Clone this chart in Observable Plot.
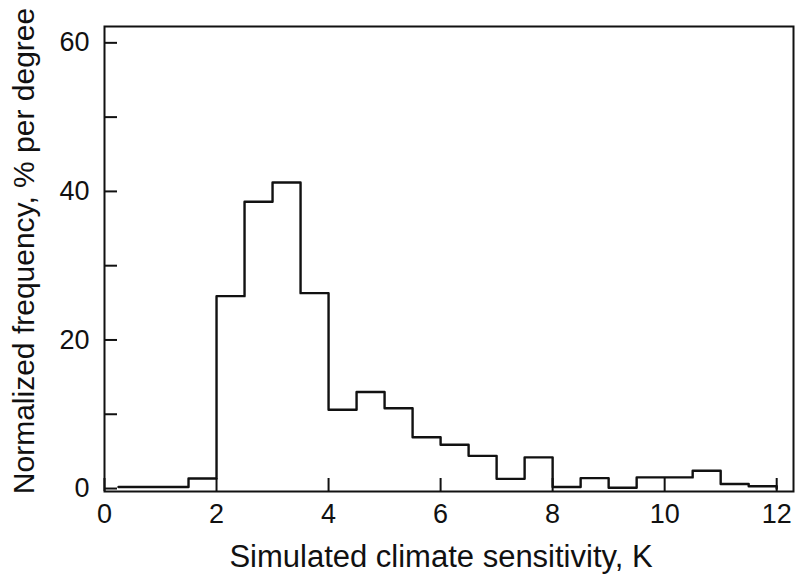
<!DOCTYPE html>
<html>
<head>
<meta charset="utf-8">
<script src="https://cdn.jsdelivr.net/npm/d3@7"></script>
<script src="https://cdn.jsdelivr.net/npm/@observablehq/plot@0.6"></script>
<style>
  html, body { margin: 0; padding: 0; background: #fff; }
  #chart svg { display: block; }
</style>
</head>
<body>
<div id="chart"></div>
<script>
// Bin edges (K) and normalized frequency (% per degree)
const binEdges = [0.25, 0.5, 1.0, 1.5, 2.0, 2.5, 3.0, 3.5, 4.0, 4.5, 5.0, 5.5, 6.0, 6.5, 7.0, 7.5, 8.0, 8.5, 9.0, 9.5, 10.0, 10.5, 11.0, 11.5, 12.0];
const freqValues = [0.2, 0.2, 0.2, 1.35, 25.9, 38.6, 41.2, 26.3, 10.6, 13.0, 10.8, 6.9, 5.9, 4.4, 1.3, 4.2, 0.2, 1.4, 0.1, 1.5, 1.5, 2.4, 0.6, 0.3];
const xTicks = [0, 2, 4, 6, 8, 10, 12];
const yTicks = [0, 10, 20, 30, 40, 50, 60];
const yLabels = [0, 20, 40, 60];
const xTitle = "Simulated climate sensitivity, K";
const yTitle = "Normalized frequency, % per degree";

// step outline points: each bin's left edge at its value, closing at the last edge down to 0
const stepPts = freqValues.map((v, i) => ({x: binEdges[i], y: v}));
stepPts.push({x: binEdges[binEdges.length - 1], y: freqValues[freqValues.length - 1]});
stepPts.push({x: binEdges[binEdges.length - 1], y: 0});

const font = "'Liberation Sans', Arial, Helvetica, sans-serif";

const chart = Plot.plot({
  width: 795,
  height: 577,
  marginLeft: 104,
  marginRight: 2,
  marginTop: 26,
  marginBottom: 86,
  style: {fontFamily: font, background: "#fff", color: "#111"},
  x: {domain: [0, 12.3]},
  y: {domain: [-0.4, 62.2]},
  marks: [
    Plot.line(stepPts, {x: "x", y: "y", curve: "step-after", stroke: "#111", strokeWidth: 2.4}),
    Plot.frame({stroke: "#111", strokeWidth: 2}),
    Plot.axisX({ticks: xTicks, tickSize: -13, tickPadding: 25, strokeWidth: 2, fontSize: 27, label: null, tickFormat: d => String(d)}),
    Plot.axisY({ticks: yTicks, tickSize: -13, tickPadding: 28, strokeWidth: 2, fontSize: 27, label: null,
      tickFormat: d => yLabels.includes(d) ? String(d) : ""}),
    Plot.text([xTitle], {frameAnchor: "bottom", text: d => d, textAnchor: "middle", dx: -8, dy: 75, lineAnchor: "bottom", fontSize: 31, fill: "#111"}),
    Plot.text([yTitle], {frameAnchor: "left", text: d => d, textAnchor: "middle", rotate: -90, dx: -71, dy: -8, lineAnchor: "bottom", fontSize: 30, fill: "#111"})
  ]
});
document.getElementById("chart").appendChild(chart);
</script>
</body>
</html>
